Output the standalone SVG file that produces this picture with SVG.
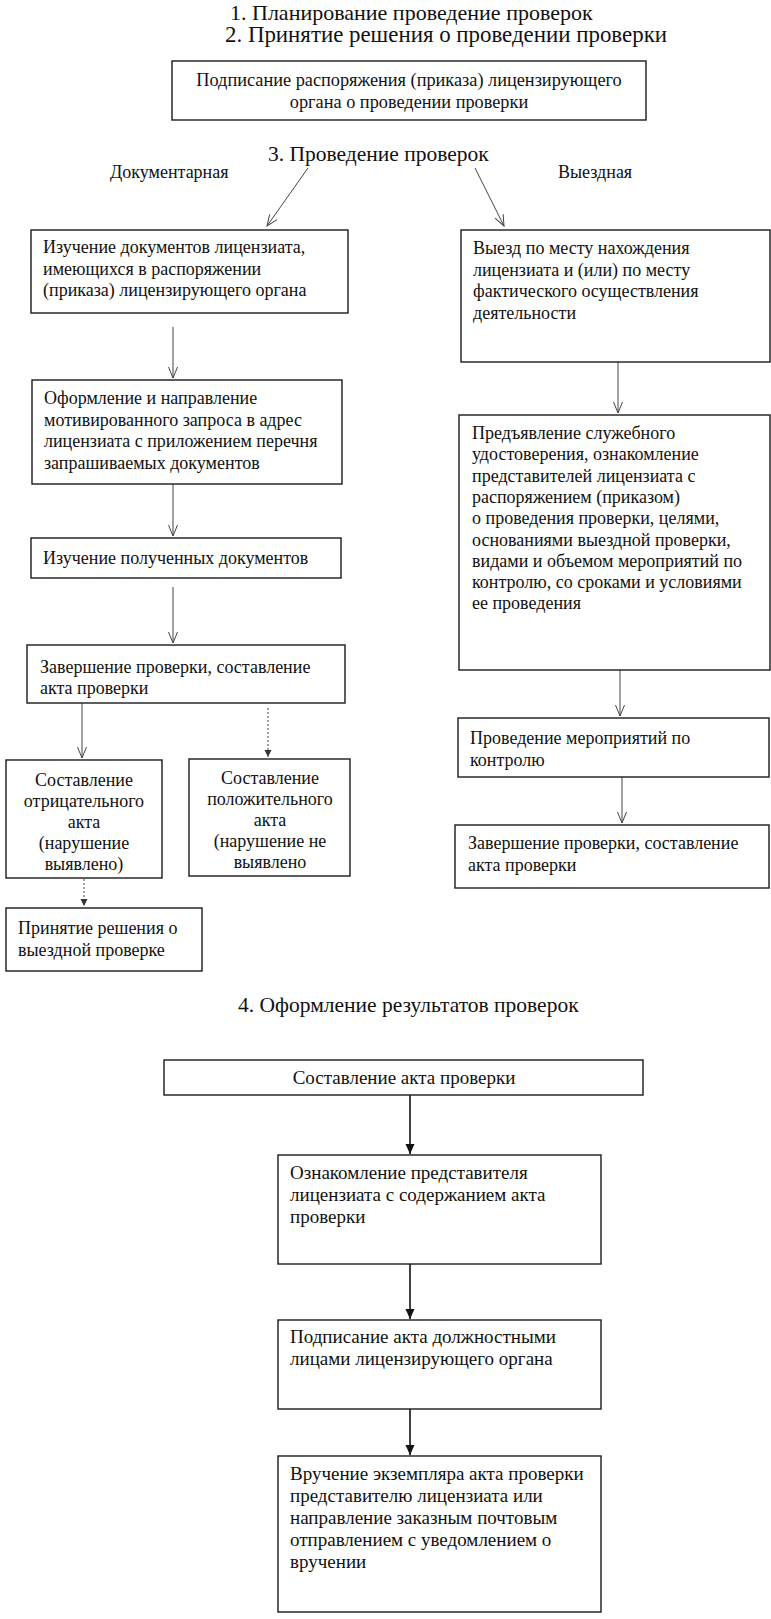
<svg xmlns="http://www.w3.org/2000/svg" width="771" height="1619" viewBox="0 0 771 1619">
<style>
.box{fill:#fff;stroke:#1a1a1a;stroke-width:1.4}
.h{font-family:"Liberation Serif","Times New Roman",serif;font-size:21.5px;fill:#111}
.t{font-family:"Liberation Serif","Times New Roman",serif;font-size:18px;fill:#111}
.t4{font-family:"Liberation Serif","Times New Roman",serif;font-size:19px;fill:#111}
.c{text-anchor:middle}
.thin{stroke:#444;stroke-width:1;fill:none}
.dot{stroke:#444;stroke-width:1;fill:none;stroke-dasharray:2 2}
.bold{stroke:#111;stroke-width:1.6;fill:none}
</style>
<defs>
<marker id="open" viewBox="-12 -6 13 12" refX="0" refY="0" markerWidth="13" markerHeight="12" markerUnits="userSpaceOnUse" orient="auto">
<path d="M-11,-4.5 L0,0 L-11,4.5" fill="none" stroke="#444" stroke-width="1"/>
</marker>
<marker id="fill" viewBox="-11 -6 12 12" refX="0" refY="0" markerWidth="12" markerHeight="12" markerUnits="userSpaceOnUse" orient="auto">
<path d="M-10,-4.5 L0,0 L-10,4.5 Z" fill="#111"/>
</marker>
<marker id="small" viewBox="-8 -5 9 10" refX="0" refY="0" markerWidth="9" markerHeight="10" markerUnits="userSpaceOnUse" orient="auto">
<path d="M-7,-3.5 L0,0 L-7,3.5 Z" fill="#333"/>
</marker>
</defs>
<rect width="771" height="1619" fill="#fff"/>

<g id="headings">
<text class="h" x="230" y="20" style="font-size:22px">1. Планирование проведение проверок</text>
<text class="h" x="225" y="42" style="font-size:22.5px" textLength="442" lengthAdjust="spacingAndGlyphs">2. Принятие решения о проведении проверки</text>
<text class="h" x="268" y="161">3. Проведение проверок</text>
<text class="t" x="110" y="178">Документарная</text>
<text class="t" x="558" y="178">Выездная</text>
<text class="h" x="238" y="1012">4. Оформление результатов проверок</text>
</g>

<g id="connectors">
<line class="thin" x1="308" y1="168" x2="267" y2="226" marker-end="url(#open)"/>
<line class="thin" x1="475" y1="168" x2="504" y2="226" marker-end="url(#open)"/>
<line class="thin" x1="173" y1="327" x2="173" y2="378" marker-end="url(#open)"/>
<line class="thin" x1="173" y1="484" x2="173" y2="536" marker-end="url(#open)"/>
<line class="thin" x1="173" y1="587" x2="173" y2="643" marker-end="url(#open)"/>
<line class="thin" x1="82" y1="703" x2="82" y2="758" marker-end="url(#open)"/>
<line class="dot" x1="268" y1="708" x2="268" y2="757" marker-end="url(#small)"/>
<line class="dot" x1="84" y1="879" x2="84" y2="906" marker-end="url(#small)"/>
<line class="thin" x1="618" y1="362" x2="618" y2="413" marker-end="url(#open)"/>
<line class="thin" x1="620" y1="670" x2="620" y2="716" marker-end="url(#open)"/>
<line class="thin" x1="622" y1="777" x2="622" y2="823" marker-end="url(#open)"/>
<line class="bold" x1="410" y1="1095" x2="410" y2="1154" marker-end="url(#fill)"/>
<line class="bold" x1="410" y1="1264" x2="410" y2="1319" marker-end="url(#fill)"/>
<line class="bold" x1="410" y1="1409" x2="410" y2="1455" marker-end="url(#fill)"/>
</g>

<g id="n-sign">
<rect class="box" x="172" y="61" width="474" height="59"/>
<text class="t c" x="409" y="86" style="font-size:18.3px">Подписание распоряжения (приказа) лицензирующего</text>
<text class="t c" x="409" y="108" style="font-size:18.3px">органа о проведении проверки</text>
</g>

<g id="n-doc1">
<rect class="box" x="31" y="230" width="317" height="83"/>
<text class="t" x="43" y="253">Изучение документов лицензиата,</text>
<text class="t" x="43" y="274.5">имеющихся в распоряжении</text>
<text class="t" x="43" y="296">(приказа) лицензирующего органа</text>
</g>

<g id="n-doc2">
<rect class="box" x="32" y="380" width="310" height="104"/>
<text class="t" x="44" y="404">Оформление и направление</text>
<text class="t" x="44" y="425.5">мотивированного запроса в адрес</text>
<text class="t" x="44" y="447">лицензиата с приложением перечня</text>
<text class="t" x="44" y="468.5">запрашиваемых документов</text>
</g>

<g id="n-doc3">
<rect class="box" x="31" y="538" width="310" height="40"/>
<text class="t" x="43" y="564">Изучение полученных документов</text>
</g>

<g id="n-doc4">
<rect class="box" x="27" y="645" width="318" height="58"/>
<text class="t" x="40" y="673">Завершение проверки, составление</text>
<text class="t" x="40" y="694">акта проверки</text>
</g>

<g id="n-neg">
<rect class="box" x="6" y="760" width="156" height="118"/>
<text class="t c" x="84" y="786">Составление</text>
<text class="t c" x="84" y="807">отрицательного</text>
<text class="t c" x="84" y="828">акта</text>
<text class="t c" x="84" y="849">(нарушение</text>
<text class="t c" x="84" y="870">выявлено)</text>
</g>

<g id="n-pos">
<rect class="box" x="189" y="759" width="161" height="117"/>
<text class="t c" x="270" y="784">Составление</text>
<text class="t c" x="270" y="805">положительного</text>
<text class="t c" x="270" y="826">акта</text>
<text class="t c" x="270" y="847">(нарушение не</text>
<text class="t c" x="270" y="868">выявлено</text>
</g>

<g id="n-decide">
<rect class="box" x="6" y="908" width="196" height="63"/>
<text class="t" x="18" y="934">Принятие решения о</text>
<text class="t" x="18" y="956">выездной проверке</text>
</g>

<g id="n-out1">
<rect class="box" x="461" y="230" width="309" height="132"/>
<text class="t" x="473" y="254">Выезд по месту нахождения</text>
<text class="t" x="473" y="275.5">лицензиата и (или) по месту</text>
<text class="t" x="473" y="297">фактического осуществления</text>
<text class="t" x="473" y="318.5">деятельности</text>
</g>

<g id="n-out2">
<rect class="box" x="459" y="415" width="311" height="255"/>
<text class="t" x="472" y="439">Предъявление служебного</text>
<text class="t" x="472" y="460.3">удостоверения, ознакомление</text>
<text class="t" x="472" y="481.6">представителей лицензиата с</text>
<text class="t" x="472" y="502.9">распоряжением (приказом)</text>
<text class="t" x="472" y="524.2">о проведения проверки, целями,</text>
<text class="t" x="472" y="545.5">основаниями выездной проверки,</text>
<text class="t" x="472" y="566.8">видами и объемом мероприятий по</text>
<text class="t" x="472" y="588.1">контролю, со сроками и условиями</text>
<text class="t" x="472" y="609.4">ее проведения</text>
</g>

<g id="n-out3">
<rect class="box" x="458" y="718" width="311" height="59"/>
<text class="t" x="470" y="744">Проведение мероприятий по</text>
<text class="t" x="470" y="766">контролю</text>
</g>

<g id="n-out4">
<rect class="box" x="455" y="825" width="314" height="63"/>
<text class="t" x="468" y="849">Завершение проверки, составление</text>
<text class="t" x="468" y="871">акта проверки</text>
</g>

<g id="n-act">
<rect class="box" x="164" y="1060" width="479" height="35"/>
<text class="t4 c" x="404" y="1084">Составление акта проверки</text>
</g>

<g id="n-familiar">
<rect class="box" x="278" y="1155" width="323" height="109"/>
<text class="t4" x="290" y="1179">Ознакомление представителя</text>
<text class="t4" x="290" y="1201">лицензиата с содержанием акта</text>
<text class="t4" x="290" y="1223">проверки</text>
</g>

<g id="n-signact">
<rect class="box" x="278" y="1320" width="323" height="89"/>
<text class="t4" x="290" y="1343">Подписание акта должностными</text>
<text class="t4" x="290" y="1365">лицами лицензирующего органа</text>
</g>

<g id="n-deliver">
<rect class="box" x="278" y="1456" width="323" height="156"/>
<text class="t4" x="290" y="1480">Вручение экземпляра акта проверки</text>
<text class="t4" x="290" y="1502">представителю лицензиата или</text>
<text class="t4" x="290" y="1524">направление заказным почтовым</text>
<text class="t4" x="290" y="1546">отправлением с уведомлением о</text>
<text class="t4" x="290" y="1568">вручении</text>
</g>
</svg>
